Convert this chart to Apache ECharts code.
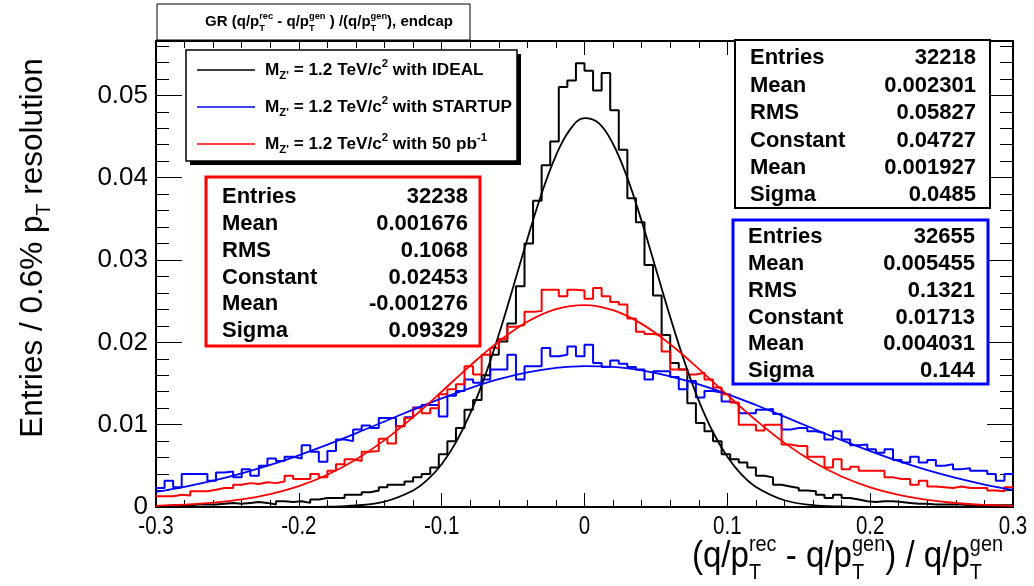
<!DOCTYPE html>
<html><head><meta charset="utf-8">
<script src="https://cdn.jsdelivr.net/npm/echarts@6/dist/echarts.min.js"></script>
<style>html,body{margin:0;padding:0;background:#fff}#c{width:1034px;height:586px}</style>
</head><body><div id="c"></div>
<script>
// ---------------- data ----------------
const binLow = -0.3, binWidth = 0.006;
const xTickValues = [-0.3, -0.2, -0.1, 0, 0.1, 0.2, 0.3];
const xTickLabels = ['-0.3', '-0.2', '-0.1', '0', '0.1', '0.2', '0.3'];
const yTickValues = [0, 0.01, 0.02, 0.03, 0.04, 0.05];
const seriesNames = ['IDEAL', 'STARTUP', '50 pb'];

const idealCounts = [
0.0001,0.0002,0.0002,0.0002,0.0003,0.0003,0.0003,0.0004,0.0005,0.0004,
0.0005,0.0006,0.0005,0.0003,0.0007,0.0006,0.0007,0.0005,0.0009,0.0011,
0.0011,0.0011,0.0015,0.0015,0.0018,0.0020,0.0024,0.0027,0.0027,0.0031,
0.0036,0.0040,0.0048,0.0064,0.0080,0.0096,0.0118,0.0130,0.0160,0.0185,
0.0201,0.0223,0.0268,0.0320,0.0372,0.0415,0.0444,0.0510,0.0518,0.0539,
0.0530,0.0506,0.0527,0.0482,0.0434,0.0375,0.0346,0.0294,0.0257,0.0209,
0.0175,0.0167,0.0126,0.0102,0.0092,0.0080,0.0064,0.0058,0.0054,0.0048,
0.0038,0.0036,0.0027,0.0025,0.0023,0.0020,0.0019,0.0015,0.0011,0.0015,
0.0011,0.0009,0.0007,0.0006,0.0007,0.0007,0.0006,0.0005,0.0004,0.0004,
0.0003,0.0003,0.0003,0.0003,0.0002,0.0002,0.0002,0.0002,0.0002,0.0002];

const startupCounts = [
0.0023,0.0032,0.0024,0.0040,0.0040,0.0040,0.0032,0.0042,0.0043,0.0036,
0.0046,0.0038,0.0050,0.0059,0.0056,0.0061,0.0059,0.0075,0.0067,0.0055,
0.0068,0.0082,0.0080,0.0094,0.0099,0.0096,0.0108,0.0108,0.0098,0.0109,
0.0121,0.0124,0.0124,0.0110,0.0135,0.0141,0.0155,0.0151,0.0155,0.0167,
0.0167,0.0185,0.0155,0.0171,0.0171,0.0193,0.0183,0.0185,0.0195,0.0183,
0.0197,0.0175,0.0170,0.0178,0.0174,0.0170,0.0167,0.0155,0.0165,0.0165,
0.0158,0.0143,0.0153,0.0133,0.0141,0.0139,0.0128,0.0126,0.0114,0.0114,
0.0118,0.0119,0.0113,0.0094,0.0096,0.0096,0.0092,0.0090,0.0082,0.0092,
0.0082,0.0075,0.0076,0.0070,0.0066,0.0070,0.0057,0.0054,0.0061,0.0054,
0.0057,0.0050,0.0052,0.0046,0.0047,0.0044,0.0044,0.0040,0.0032,0.0040];

const pb50Counts = [
0.0013,0.0013,0.0015,0.0014,0.0019,0.0019,0.0021,0.0023,0.0023,0.0027,
0.0029,0.0028,0.0030,0.0029,0.0031,0.0038,0.0034,0.0034,0.0040,0.0036,
0.0044,0.0052,0.0058,0.0056,0.0067,0.0068,0.0083,0.0077,0.0098,0.0108,
0.0120,0.0114,0.0120,0.0137,0.0143,0.0149,0.0171,0.0161,0.0185,0.0193,
0.0204,0.0219,0.0221,0.0237,0.0238,0.0264,0.0264,0.0256,0.0264,0.0263,
0.0253,0.0266,0.0256,0.0249,0.0246,0.0229,0.0213,0.0210,0.0209,0.0189,
0.0167,0.0167,0.0161,0.0163,0.0155,0.0145,0.0137,0.0127,0.0100,0.0100,
0.0093,0.0100,0.0100,0.0076,0.0074,0.0074,0.0061,0.0061,0.0048,0.0058,
0.0046,0.0049,0.0044,0.0044,0.0044,0.0036,0.0034,0.0034,0.0027,0.0032,
0.0025,0.0024,0.0023,0.0025,0.0023,0.0023,0.0023,0.0020,0.0019,0.0024];

// fitted gaussian curves, sampled points
const idealFitX = [-0.3,-0.28,-0.26,-0.24,-0.22,-0.2,-0.18,-0.16,-0.14,-0.12,-0.11,-0.1,-0.09,-0.08,-0.07,-0.06,-0.05,-0.04,-0.03,-0.02,-0.01,0,0.01,0.02,0.03,0.04,0.05,0.06,0.07,0.08,0.09,0.1,0.11,0.12,0.14,0.16,0.18,0.2,0.22,0.24,0.26,0.28,0.3];
const idealFitY = [0,0,0,0,0,0.00001,0.00004,0.00018,0.00065,0.00201,0.0033,0.0052,0.00785,0.01136,0.01575,0.02094,0.02667,0.03255,0.03808,0.04269,0.04587,0.04723,0.04662,0.04409,0.03997,0.03472,0.02891,0.02307,0.01764,0.01293,0.00908,0.00611,0.00394,0.00244,0.00082,0.00023,0.00006,0.00001,0,0,0,0,0];
const wideFitX = [-0.3,-0.28,-0.26,-0.24,-0.22,-0.2,-0.18,-0.16,-0.14,-0.12,-0.1,-0.08,-0.06,-0.04,-0.02,0,0.02,0.04,0.06,0.08,0.1,0.12,0.14,0.16,0.18,0.2,0.22,0.24,0.26,0.28,0.3];
const startupFitY = [0.00184,0.00245,0.00319,0.00408,0.00511,0.00628,0.00757,0.00895,0.01039,0.01182,0.0132,0.01445,0.01552,0.01635,0.01689,0.01712,0.01703,0.0166,0.01588,0.0149,0.01372,0.01239,0.01097,0.00953,0.00812,0.00679,0.00556,0.00447,0.00353,0.00273,0.00207];
const pb50FitY = [0.000146,0.000283,0.000524,0.000929,0.00157,0.00254,0.00392,0.00577,0.00812,0.01092,0.01401,0.01718,0.02012,0.02251,0.02404,0.02453,0.0239,0.02224,0.01977,0.01678,0.01361,0.01054,0.00779,0.0055,0.00371,0.00239,0.00147,0.000865,0.000486,0.00026,0.000133];

const statLabels = ['Entries', 'Mean', 'RMS', 'Constant', 'Mean', 'Sigma'];
const idealStats = ['32218', '0.002301', '0.05827', '0.04727', '0.001927', '0.0485'];
const startupStats = ['32655', '0.005455', '0.1321', '0.01713', '0.004031', '0.144'];
const pb50Stats = ['32238', '0.001676', '0.1068', '0.02453', '-0.001276', '0.09329'];

// ---------------- helpers ----------------
const FONT = '"Liberation Sans", Arial, sans-serif';
const mctx = document.createElement('canvas').getContext('2d');
function measure(t, font) { mctx.font = font; return mctx.measureText(t).width; }

function mathGroup(parts, o) {
  const size = o.size, w = o.weight || 'normal', fam = o.family || FONT, col = o.color || '#000';
  const ss = size * (o.scr || 0.62);
  const f = s => w + ' ' + s + 'px ' + fam;
  const kids = []; let x = 0;
  parts.forEach(p => {
    if (typeof p === 'string') {
      kids.push({type: 'text', x: x, y: 0, z: 101, style: {text: p, font: f(size), fill: col, textVerticalAlign: 'middle', textAlign: 'left'}});
      x += measure(p, f(size));
    } else {
      let wm = 0;
      if (p.sup) { kids.push({type: 'text', x: x, y: -size * (o.supDy || 0.36), z: 101, style: {text: p.sup, font: f(ss), fill: col, textVerticalAlign: 'middle', textAlign: 'left'}}); wm = Math.max(wm, measure(p.sup, f(ss))); }
      if (p.sub) { kids.push({type: 'text', x: x, y: size * (o.subDy || 0.4), z: 101, style: {text: p.sub, font: f(ss), fill: col, textVerticalAlign: 'middle', textAlign: 'left'}}); wm = Math.max(wm, measure(p.sub, f(ss))); }
      x += wm;
    }
  });
  const off = o.align === 'right' ? -x : (o.align === 'center' ? -x / 2 : 0);
  kids.forEach(k => { k.x += off; });
  return {type: 'group', x: o.x, y: o.y, rotation: o.rotation || 0, scaleX: o.scaleX || 1, z: 101, children: kids};
}

function statBox(box, labels, values, color, lw) {
  const els = [{type: 'rect', z: 100, shape: {x: box.x0, y: box.y0, width: box.x1 - box.x0, height: box.y1 - box.y0}, style: {fill: '#fff', stroke: color, lineWidth: lw}}];
  labels.forEach((l, i) => {
    const y = box.rows[i];
    els.push({type: 'text', z: 101, x: box.lx, y: y, style: {text: l, font: 'bold ' + box.fs + 'px ' + FONT, fill: '#000', textAlign: 'left', textVerticalAlign: 'middle'}});
    els.push({type: 'text', z: 101, x: box.rx, y: y, style: {text: values[i], font: 'bold ' + box.fs + 'px ' + FONT, fill: '#000', textAlign: 'right', textVerticalAlign: 'middle'}});
  });
  return els;
}

function histData(counts) {
  const d = counts.map((v, i) => [binLow + i * binWidth, v]);
  d.push([binLow + counts.length * binWidth, counts[counts.length - 1]]);
  return d;
}
function curveData(xs, ys) { return xs.map((x, i) => [x, ys[i]]); }

// ---------------- chart ----------------
const chart = echarts.init(document.getElementById('c'), null, {renderer: 'canvas'});

const gridBox = {left: 156, top: 41, right: 21, bottom: 79};
const axisCommon = {
  type: 'value', min: -0.3, max: 0.3, interval: 0.1,
  axisLine: {show: true, onZero: false, lineStyle: {color: '#000', width: 2}},
  splitLine: {show: false}
};

const graphics = [];
// title box
graphics.push({type: 'rect', z: 100, shape: {x: 157, y: 4, width: 313, height: 36}, style: {fill: '#fff', stroke: '#000', lineWidth: 1}});
graphics.push(mathGroup(['GR (q/p', {sup: 'rec', sub: 'T'}, ' - q/p', {sup: 'gen', sub: 'T'}, ' ) /(q/p', {sup: 'gen', sub: 'T'}, '), endcap'],
  {x: 329, y: 22, size: 15, weight: 'bold', align: 'center', scr: 0.62}));
// legend
graphics.push({type: 'rect', z: 99, shape: {x: 190, y: 54, width: 331, height: 111}, style: {fill: '#000'}});
graphics.push({type: 'rect', z: 100, shape: {x: 186, y: 50, width: 331, height: 111}, style: {fill: '#fff', stroke: '#000', lineWidth: 1.5}});
const legColors = ['#000000', '#0000ff', '#ff0000'];
const legRows = [70, 107, 144];
seriesNames.forEach((n, i) => {
  graphics.push({type: 'line', z: 101, shape: {x1: 197, y1: legRows[i], x2: 255, y2: legRows[i]}, style: {stroke: legColors[i], lineWidth: 1.5}});
  const tail = i === 2 ? [' with 50 pb', {sup: '-1'}] : [' with ' + n];
  graphics.push(mathGroup(['M', {sub: "Z'"}, ' = 1.2 TeV/c', {sup: '2'}].concat(tail),
    {x: 265, y: legRows[i], size: 17.2, weight: 'bold', scr: 0.66, supDy: 0.36, subDy: 0.33}));
});
// stat boxes
graphics.push(...statBox({x0: 735, y0: 40, x1: 990, y1: 208, lx: 750, rx: 976, fs: 22, rows: [58, 86, 113, 141, 168, 195]}, statLabels, idealStats, '#000', 2));
graphics.push(...statBox({x0: 733, y0: 220, x1: 988, y1: 384, lx: 748, rx: 975, fs: 22, rows: [237, 264, 291, 318, 344, 371]}, statLabels, startupStats, '#0000ff', 3));
graphics.push(...statBox({x0: 206, y0: 177, x1: 480, y1: 346, lx: 222, rx: 468, fs: 22, rows: [197, 224, 251, 278, 304, 331]}, statLabels, pb50Stats, '#ff0000', 3));
// axis titles
graphics.push(mathGroup(['Entries / 0.6% p', {sub: 'T'}, ' resolution'], {x: 33, y: 248, size: 31.5, align: 'center', rotation: Math.PI / 2, scr: 0.62, subDy: 0.38}));
graphics.push(mathGroup(['(q/p', {sup: 'rec', sub: 'T'}, ' - q/p', {sup: 'gen', sub: 'T'}, ') / q/p', {sup: 'gen', sub: 'T'}],
  {x: 1003, y: 557, size: 36, align: 'right', scr: 0.6, supDy: 0.33, subDy: 0.45, scaleX: 0.92}));

const option = {
  animation: false,
  backgroundColor: '#fff',
  grid: Object.assign({containLabel: false, outerBoundsMode: 'none'}, gridBox),
  xAxis: [
    Object.assign({}, axisCommon, {position: 'bottom',
      axisTick: {show: true, inside: true, length: 14, lineStyle: {color: '#000', width: 1}},
      minorTick: {show: true, splitNumber: 5, length: 7, lineStyle: {color: '#000', width: 1}},
      axisLabel: {show: false}}),
    Object.assign({}, axisCommon, {position: 'top',
      axisTick: {show: true, inside: true, length: 14, lineStyle: {color: '#000', width: 1}},
      minorTick: {show: true, splitNumber: 5, length: 7, lineStyle: {color: '#000', width: 1}},
      axisLabel: {show: false}})
  ],
  yAxis: [
    {type: 'value', min: 0, max: 0.0566, interval: 0.01, position: 'left',
      axisLine: {show: true, onZero: false, lineStyle: {color: '#000', width: 2}},
      splitLine: {show: false},
      axisTick: {show: true, inside: true, length: 26, lineStyle: {color: '#000', width: 1}},
      minorTick: {show: true, splitNumber: 5, length: 13, lineStyle: {color: '#000', width: 1}},
      axisLabel: {show: true, color: '#000', fontSize: 26, fontFamily: FONT, margin: 8, showMaxLabel: false,
        formatter: v => (yTickValues.some(t => Math.abs(t - v) < 1e-9) ? String(+v.toFixed(4)) : '')}},
    {type: 'value', min: 0, max: 0.0566, interval: 0.01, position: 'right',
      axisLine: {show: true, onZero: false, lineStyle: {color: '#000', width: 2}},
      splitLine: {show: false},
      axisTick: {show: true, inside: true, length: 26, lineStyle: {color: '#000', width: 1}},
      minorTick: {show: true, splitNumber: 5, length: 13, lineStyle: {color: '#000', width: 1}},
      axisLabel: {show: false}}
  ],
  series: [
    {name: seriesNames[0], type: 'line', step: 'end', data: histData(idealCounts), showSymbol: false, symbol: 'none', lineStyle: {color: '#000', width: 2}, z: 3},
    {name: seriesNames[1], type: 'line', step: 'end', data: histData(startupCounts), showSymbol: false, symbol: 'none', lineStyle: {color: '#0000ff', width: 2}, z: 3},
    {name: seriesNames[2], type: 'line', step: 'end', data: histData(pb50Counts), showSymbol: false, symbol: 'none', lineStyle: {color: '#ff0000', width: 2}, z: 3},
    {name: 'fit ' + seriesNames[0], type: 'line', smooth: 0.4, data: curveData(idealFitX, idealFitY), showSymbol: false, symbol: 'none', lineStyle: {color: '#000', width: 1.8}, z: 4},
    {name: 'fit ' + seriesNames[1], type: 'line', smooth: 0.4, data: curveData(wideFitX, startupFitY), showSymbol: false, symbol: 'none', lineStyle: {color: '#0000ff', width: 1.8}, z: 4},
    {name: 'fit ' + seriesNames[2], type: 'line', smooth: 0.4, data: curveData(wideFitX, pb50FitY), showSymbol: false, symbol: 'none', lineStyle: {color: '#ff0000', width: 1.8}, z: 4}
  ],
  graphic: graphics
};
chart.setOption(option);

// x tick labels (horizontally condensed like the original), placed through the axis scale
const xLabelEls = xTickValues.map((v, i) => {
  const px = chart.convertToPixel({xAxisIndex: 0}, v);
  const py = chart.convertToPixel({yAxisIndex: 0}, 0);
  return {type: 'text', id: 'xl' + i, z: 101, x: px, y: py + 8, scaleX: 0.82, originX: 0, originY: 0,
    style: {text: xTickLabels[i], font: '25px ' + FONT, fill: '#000', textAlign: 'center', textVerticalAlign: 'top'}};
});
chart.setOption({graphic: graphics.concat(xLabelEls)});
</script>
</body></html>
